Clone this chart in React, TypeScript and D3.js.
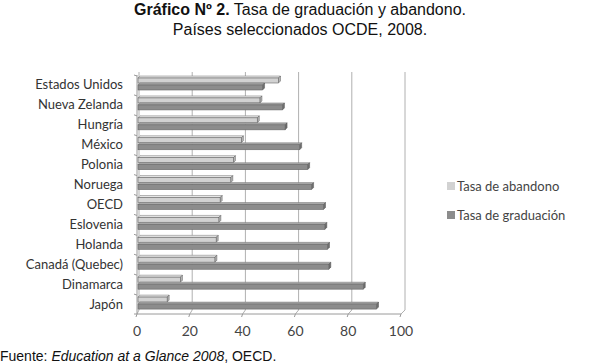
import React from 'react';
import * as d3 from 'd3';

// categories top to bottom
const paises = [
  'Estados Unidos', 'Nueva Zelanda', 'Hungría', 'México', 'Polonia', 'Noruega',
  'OECD', 'Eslovenia', 'Holanda', 'Canadá (Quebec)', 'Dinamarca', 'Japón',
];
const abandono = [53, 46, 45, 39, 36, 35, 31, 30.5, 29.5, 29, 16, 11];
const graduacion = [47, 54.5, 55.5, 61, 64, 65.5, 70, 70.5, 71.5, 72, 85, 90];
const ticks = [0, 20, 40, 60, 80, 100];

const W = 600;
const H = 364;
const labelFont = 'Lato, "Open Sans", sans-serif';
const textFont = '"Liberation Sans", Arial, sans-serif';

const App = () => {
  const y = d3.scaleBand<string>().domain(paises).range([75, 314]);
  const xBack = d3.scaleLinear().domain([0, 100]).range([139, 405]);
  const xFront = d3.scaleLinear().domain([0, 100]).range([137, 401]);
  const xBar = d3.scaleLinear().domain([0, 100]).range([138, 403]);
  const top = 72;
  const floorBack = 310;
  const floorFront = 314;

  // draws a flat bar with a thin top face and end face for the 3D look
  const bar = (key: string, x0: number, x1: number, y0: number, h: number, fill: string, topFill: string, side: string) => {
    const d = 2;
    return (
      <g key={key}>
        <polygon points={`${x0},${y0} ${x0 + d},${y0 - d} ${x1 + d},${y0 - d} ${x1},${y0}`} fill={topFill} stroke="#777" strokeWidth={0.5} />
        <polygon points={`${x1},${y0} ${x1 + d},${y0 - d} ${x1 + d},${y0 + h - d} ${x1},${y0 + h}`} fill={side} stroke="#555" strokeWidth={0.5} />
        <rect x={x0} y={y0} width={x1 - x0} height={h} fill={fill} stroke="#666" strokeWidth={0.6} />
      </g>
    );
  };

  return (
    <svg width={W} height={H} style={{ position: 'absolute', left: 0, top: 0, background: '#fff' }}>
      {/* title */}
      <text x={300} y={15} textAnchor="middle" fontFamily={textFont} fontSize={16} fill="#111">
        <tspan fontWeight="bold">Gráfico Nº 2.</tspan> Tasa de graduación y abandono.
      </text>
      <text x={300} y={35} textAnchor="middle" fontFamily={textFont} fontSize={16} fill="#111">
        Países seleccionados OCDE, 2008.
      </text>

      {/* back wall gridlines */}
      {ticks.map(t => (
        <g key={`g${t}`}>
          <line x1={xBack(t)} x2={xBack(t)} y1={top} y2={floorBack} stroke="#b0b0b0" strokeWidth={1} />
          <line x1={xBack(t)} x2={xFront(t)} y1={floorBack} y2={floorFront} stroke="#b0b0b0" strokeWidth={1} />
        </g>
      ))}
      {/* left axis and floor */}
      <line x1={xFront(0)} x2={xFront(0)} y1={top + 3} y2={floorFront} stroke="#9a9a9a" />
      <line x1={xFront(0)} x2={xFront(100)} y1={floorFront} y2={floorFront} stroke="#9a9a9a" />
      {paises.map(p => (
        <line key={`t${p}`} x1={xFront(0) - 3} x2={xFront(0)} y1={y(p)!} y2={y(p)! + 1} stroke="#9a9a9a" />
      ))}
      <line x1={xFront(0) - 3} x2={xFront(0)} y1={floorFront} y2={floorFront} stroke="#9a9a9a" />
      {ticks.map(t => (
        <line key={`tk${t}`} x1={xFront(t)} x2={xFront(t) - 1} y1={floorFront} y2={floorFront + 3} stroke="#9a9a9a" />
      ))}

      {/* bars */}
      {paises.map((p, i) => {
        const b = y(p)!;
        return (
          <g key={p}>
            {bar(`a${i}`, xBar(0), xBar(abandono[i]), b + 3, 5, '#d2d2d2', '#e6e6e6', '#b8b8b8')}
            {bar(`g${i}`, xBar(0), xBar(graduacion[i]), b + 10, 5, '#8c8c8c', '#a8a8a8', '#6e6e6e')}
          </g>
        );
      })}

      {/* category labels */}
      {paises.map(p => (
        <text key={`l${p}`} x={123} y={y(p)! + y.bandwidth() / 2 + 4.5} textAnchor="end" fontFamily={labelFont} fontSize={13} fill="#333">
          {p}
        </text>
      ))}

      {/* x tick labels */}
      {ticks.map(t => (
        <text key={`x${t}`} x={xFront(t)} y={336} textAnchor="middle" fontFamily={labelFont} fontSize={14} fill="#444">
          {t}
        </text>
      ))}

      {/* legend */}
      <rect x={447} y={182} width={8} height={8} fill="#d2d2d2" />
      <text x={457} y={191} fontFamily={labelFont} fontSize={13} fill="#444">Tasa de abandono</text>
      <rect x={447} y={211} width={8} height={8} fill="#8c8c8c" />
      <text x={457} y={220} fontFamily={labelFont} fontSize={13} fill="#444">Tasa de graduación</text>

      {/* source */}
      <text x={0} y={361} fontFamily={textFont} fontSize={14} fill="#111">
        Fuente: <tspan fontStyle="italic">Education at a Glance 2008</tspan>, OECD.
      </text>
    </svg>
  );
};

export default App;
